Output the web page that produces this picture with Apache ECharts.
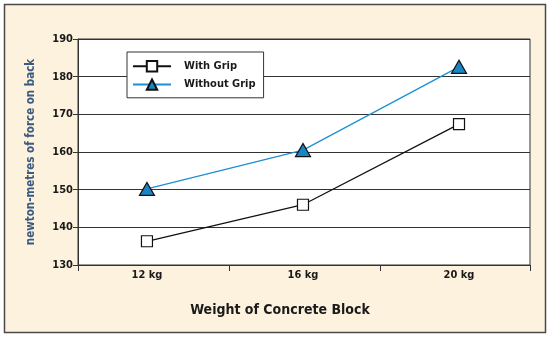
<!DOCTYPE html>
<html>
<head>
<meta charset="utf-8">
<script src="https://cdn.jsdelivr.net/npm/echarts@6/dist/echarts.min.js"></script>
<style>
  html, body { margin: 0; padding: 0; background: #ffffff; }
  #chart { width: 550px; height: 337px; }
</style>
</head>
<body>
<div id="chart"></div>
<script>
// Block weights and the measured back force (newton-metres)
const categories = ['12 kg', '16 kg', '20 kg'];
const withGrip = [136.3, 146.0, 167.4];
const withoutGrip = [150.2, 160.5, 182.6];
const yTicks = [130, 140, 150, 160, 170, 180, 190];

const FONT = '"Liberation Sans Narrow", "DejaVu Sans Condensed", "Arial Narrow", sans-serif';
const INK = '#1a1a1a';

const chart = echarts.init(document.getElementById('chart'), null, { renderer: 'canvas' });

const toPairs = arr => arr.map((v, i) => [i, v]);

chart.setOption({
  animation: false,
  backgroundColor: '#ffffff',
  graphic: [
    {
      type: 'rect',
      z: -10,
      shape: { x: 4.5, y: 4.5, width: 541, height: 328 },
      style: { fill: '#fdf2de', stroke: '#4a4a4a', lineWidth: 1.5 }
    }
  ],
  title: {
    text: 'Weight of Concrete Block',
    left: 275,
    top: 298,
    textAlign: 'center',
    textStyle: { fontFamily: FONT, fontSize: 14, fontWeight: 'bold', color: INK }
  },
  grid: {
    left: 78, right: 20, top: 39, bottom: 72,
    show: true,
    backgroundColor: '#ffffff',
    borderColor: '#333333',
    borderWidth: 1
  },
  legend: {
    orient: 'vertical',
    left: 127,
    top: 52,
    padding: [8, 8, 7, 5],
    itemGap: 6,
    itemWidth: 38,
    itemHeight: 13,
    backgroundColor: '#ffffff',
    borderColor: '#333333',
    borderWidth: 1,
    textStyle: { fontFamily: FONT, fontSize: 11, fontWeight: 'bold', color: INK, padding: [0, 0, 0, 8] },
    data: ['With Grip', 'Without Grip']
  },
  xAxis: {
    type: 'value',
    min: -0.442,
    max: 2.455,
    splitLine: { show: false },
    axisLine: { show: true, onZero: false, lineStyle: { color: '#333333', width: 1 } },
    axisTick: {
      show: true,
      length: 6,
      customValues: [-0.442, 0.526, 1.494, 2.455],
      lineStyle: { color: '#333333', width: 1 }
    },
    axisLabel: {
      customValues: [0, 1, 2],
      margin: 5,
      fontFamily: FONT, fontSize: 11, fontWeight: 'bold', color: INK,
      formatter: v => categories[Math.round(v)] || ''
    }
  },
  yAxis: {
    type: 'value',
    min: yTicks[0],
    max: yTicks[yTicks.length - 1],
    interval: 10,
    name: 'newton-metres of force on back',
    nameLocation: 'middle',
    nameGap: 41,
    nameTextStyle: { fontFamily: FONT, fontSize: 11.5, fontWeight: 'bold', color: '#3a5a80' },
    axisLine: { show: true, onZero: false, lineStyle: { color: '#333333', width: 1 } },
    axisTick: { show: true, length: 5, lineStyle: { color: '#333333' } },
    axisLabel: { margin: 5, fontFamily: FONT, fontSize: 11, fontWeight: 'bold', color: INK },
    splitLine: { show: true, lineStyle: { color: '#333333', width: 1 } }
  },
  series: [
    {
      name: 'With Grip',
      type: 'line',
      data: toPairs(withGrip),
      symbol: 'rect',
      symbolSize: 11,
      lineStyle: { color: '#111111', width: 1.3 },
      itemStyle: { color: '#ffffff', borderColor: '#111111', borderWidth: 1.2 },
      z: 3
    },
    {
      name: 'Without Grip',
      type: 'line',
      data: toPairs(withoutGrip),
      symbol: 'triangle',
      symbolSize: [15, 13],
      lineStyle: { color: '#1b8fd2', width: 1.2 },
      itemStyle: { color: '#1a85c4', borderColor: '#111111', borderWidth: 1.2 },
      z: 4
    }
  ]
});
</script>
</body>
</html>
